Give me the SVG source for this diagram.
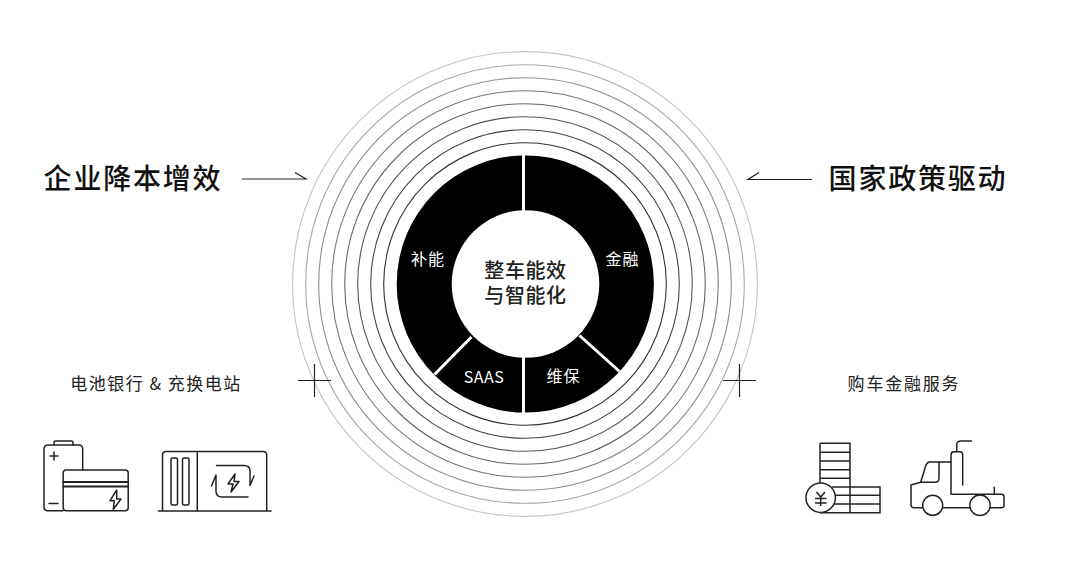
<svg xmlns="http://www.w3.org/2000/svg" width="1080" height="574" viewBox="0 0 1080 574">
<style>
text{font-family:"Noto Sans CJK SC","Noto Sans",sans-serif;text-anchor:middle}
.title{font-size:28px;font-weight:500;fill:#111;letter-spacing:1.8px}
.sub{font-size:17px;fill:#222;letter-spacing:1.5px}
.seg{font-size:16px;fill:#fff;letter-spacing:1px}
.core{font-size:20px;font-weight:500;fill:#222;letter-spacing:.6px}
.ring{fill:none;stroke-width:1.1}
.ic{fill:none;stroke:#222;stroke-width:1.5;stroke-linecap:round;stroke-linejoin:round}
.conn{fill:none;stroke:#222;stroke-width:1.2}
.sep{stroke:#fff;stroke-width:3;fill:none}
</style>
<rect width="1080" height="574" fill="#fff"/>
<g id="rings">
<circle class="ring" cx="525" cy="284" r="232.4" stroke="#c4c4c4"/>
<circle class="ring" cx="525" cy="284" r="219.3" stroke="#a8a8a8"/>
<circle class="ring" cx="525" cy="284" r="206.3" stroke="#8e8e8e"/>
<circle class="ring" cx="525" cy="284" r="193.3" stroke="#7a7a7a"/>
<circle class="ring" cx="525" cy="284" r="180.3" stroke="#666"/>
<circle class="ring" cx="525" cy="284" r="167.3" stroke="#555"/>
<circle class="ring" cx="525" cy="284" r="154.3" stroke="#444"/>
<circle class="ring" cx="525" cy="284" r="141.3" stroke="#333"/>
</g>
<g id="wheel">
<circle cx="525.3" cy="284" r="128.6" fill="#000"/>
<path class="sep" d="M523.500 155V211M523.500 357V413M471.500 337L434.500 374.500M579.500 335.500L619.500 371.500"/>
<circle cx="525.500" cy="284" r="73.800" fill="#fff"/>
</g>
<g id="segment-buneng"><text class="seg" x="428" y="265">补能</text></g>
<g id="segment-jinrong"><text class="seg" x="622.500" y="265">金融</text></g>
<g id="segment-saas"><text class="seg" x="484" y="383" style="letter-spacing:.5px">SAAS</text></g>
<g id="segment-weibao"><text class="seg" x="563.500" y="382">维保</text></g>
<g id="core"><text class="core"><tspan x="525.500" y="278">整车能效</tspan><tspan x="525.500" y="303">与智能化</tspan></text></g>
<g id="title-left"><text class="title" x="133" y="189">企业降本增效</text></g>
<g id="title-right"><text class="title" x="918" y="189">国家政策驱动</text></g>
<g id="connectors">
<path class="conn" d="M242 179H306L295 172.500"/>
<path class="conn" d="M812 179.500H748L759 172.500"/>
<path class="conn" d="M298 380.500H331M314.500 364V397"/>
<path class="conn" d="M723 380.500H756M739.500 364V397"/>
</g>
<g id="label-left"><text class="sub" x="156" y="390">电池银行 &amp; 充换电站</text></g>
<g id="label-right"><text class="sub" x="904" y="390" style="letter-spacing:1.8px">购车金融服务</text></g>
<g id="icon-battery" class="ic">
<path d="M54 445V442.500Q54 441 56 441H71Q73 441 73 442.500V445"/>
<path d="M63 510.700H47.500Q44 510.700 44 507V449Q44 445 48 445H79Q82.700 445 82.700 449V470"/>
<path d="M50 456H58M54 452V460M49 503.500H58"/>
<rect x="63.200" y="470" width="65" height="40.700" rx="3"/>
<path d="M63.200 482H128.200M63.200 486.500H128.200" stroke-width="2"/>
<path d="M116.700 490L110 500.700H114.300L113.300 509.300L121 499H116.700Z"/>
</g>
<g id="icon-station" class="ic">
<path d="M158.500 511H271M162.500 511V455Q162.500 451.500 166 451.500H263Q266.700 451.500 266.700 455V511M197.300 451.500V511"/>
<rect x="171" y="458" width="6.500" height="47" rx="1.500"/>
<rect x="182.500" y="458" width="6.500" height="47" rx="1.500"/>
<path d="M216.500 465.500H244Q250 465.500 250 471V485.500L254 476"/>
<path d="M248 497H222Q216 497 216 491V475L211.500 486"/>
<path d="M235 474L228 484H233L231 492L239 481.500H234Z"/>
</g>
<g id="icon-coins" class="ic" style="stroke-linecap:butt;stroke-linejoin:miter">
<path d="M820 443.300H850V512.700H820M820 443.300V483M820 452.300H850M820 461H850M820 469.700H850M820 478.300H850M832 487H880V512.700H850M832 495.300H880M832 504H880"/>
<circle cx="820.700" cy="497.700" r="14.700" fill="#fff"/>
<path d="M816.500 492L820.700 497L825 492M815 498.500H826.500M815 503H826.500M820.700 497V506"/>
</g>
<g id="icon-truck" class="ic">
<path d="M971.500 441H961Q956.700 441 956.700 445V451.700"/>
<path d="M951 494.300V455Q951 451.700 954 451.700H960Q962.700 451.700 962.700 455V485M951 494.300H1001.500Q1004 494.300 1004 497V505.500Q1004 507.700 1001.500 507.700H990.500"/>
<path d="M922.700 507.700H914Q911 507.700 911 505V485L920.700 482.300L926 465Q927.300 462 930 462H951"/>
<path d="M939 462V478Q939 482.300 935 482.300H920.700"/>
<path d="M994.300 487.300V494.300"/>
<path d="M943 507.700H970"/>
<circle cx="932.700" cy="505.300" r="10"/>
<circle cx="980" cy="505.300" r="10.200"/>
</g>
</svg>
